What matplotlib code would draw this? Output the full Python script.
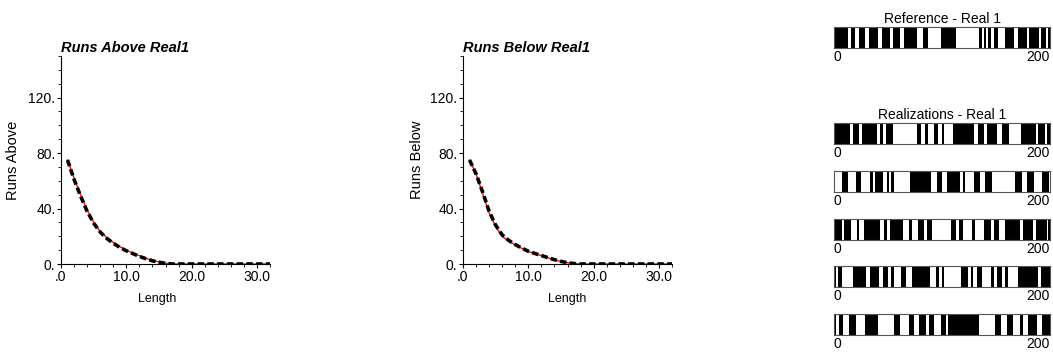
import numpy as np
import matplotlib
matplotlib.use('Agg')
import matplotlib.pyplot as plt
from matplotlib.ticker import MultipleLocator, FuncFormatter

plt.rcParams['font.family'] = ['Liberation Sans', 'DejaVu Sans']

# run-length statistics (number of runs of each length)
lengths = np.arange(1, 33)
above_ref = [75, 62, 50, 39, 30, 23.5, 19, 15.5, 12.5, 10, 7.8, 6, 4, 2.5, 1.5, 0.6] + [0] * 16
above_real = [75, 61, 49, 38, 29.5, 23, 18.5, 15, 12, 9.5, 7.5, 5.5, 3.8, 2.3, 1.3, 0.5] + [0] * 16
below_ref = [75, 65, 51, 37, 27, 20, 16.5, 13.8, 11.3, 9, 7.5, 6, 4.5, 3, 1.8, 0.9, 0.3] + [0] * 15
below_real = [75, 65, 52, 38, 28, 21, 17, 14, 11.5, 9.2, 7.6, 6.1, 4.6, 3.1, 1.9, 0.9, 0.3] + [0] * 15

# indicator strings as run lengths (cells), first run colour given separately
ref_runs = [13, 3, 3, 4, 6, 3, 9, 3, 8, 3, 6, 4, 12, 5, 5, 12, 14, 21, 3, 2, 2, 2, 2, 3, 4, 6,
            9, 3, 9, 2, 9, 2, 4, 2, 2]
ref_first = 1
real_runs = [
    [15, 3, 5, 3, 14, 3, 2, 3, 7, 22, 4, 3, 3, 6, 3, 4, 2, 8, 20, 3, 6, 3, 9, 5, 6, 11, 14, 2, 6, 2, 3],
    [7, 6, 7, 5, 8, 3, 2, 7, 4, 2, 2, 3, 14, 20, 5, 5, 5, 12, 2, 2, 9, 5, 5, 6, 22, 6, 5, 6, 8, 6, 1],
    [7, 2, 7, 5, 2, 5, 15, 3, 3, 3, 12, 5, 3, 6, 5, 3, 5, 17, 5, 3, 3, 9, 3, 8, 6, 3, 5, 5, 14, 3, 9,
     3, 10, 1, 2],
    [2, 2, 3, 11, 12, 3, 9, 3, 5, 3, 3, 6, 5, 5, 17, 5, 3, 3, 2, 16, 6, 3, 2, 3, 5, 8, 3, 3, 5, 2, 3,
     9, 19, 3, 8],
    [2, 3, 3, 6, 6, 9, 12, 15, 5, 8, 5, 5, 6, 3, 5, 6, 5, 2, 28, 15, 6, 5, 6, 6, 3, 5, 8, 5, 7],
]
real_first = [1, 0, 1, 1, 1]
ncell = 200

fig = plt.figure(figsize=(10.53, 3.56), dpi=100)


def runPlot(rect, ref, real, title, ylab, xlab_x, ylab_x):
    ax = fig.add_axes(rect)
    ax.plot(lengths, ref, color='red', lw=1.0, zorder=2)
    ax.plot(lengths, real, color='black', lw=2.6, ls=(0, (1.8, 0.9)), zorder=3)
    ax.set_xlim(0, 32)
    ax.set_ylim(0, 150)
    for s in ['top', 'right']:
        ax.spines[s].set_visible(False)
    for s in ['left', 'bottom']:
        ax.spines[s].set_linewidth(0.8)
    ax.xaxis.set_major_locator(MultipleLocator(10))
    ax.xaxis.set_minor_locator(MultipleLocator(2))
    ax.yaxis.set_major_locator(MultipleLocator(40))
    ax.yaxis.set_minor_locator(MultipleLocator(10))
    ax.xaxis.set_major_formatter(FuncFormatter(lambda v, p: '.0' if v == 0 else '%.1f' % v))
    ax.yaxis.set_major_formatter(FuncFormatter(lambda v, p: '%d.' % v))
    ax.tick_params(which='major', length=3, width=0.8, labelsize=10, pad=1)
    ax.tick_params(which='minor', length=2, width=0.6)
    ax.set_title(title, loc='left', fontsize=10.5, fontweight='bold', fontstyle='italic', pad=3)
    ax.set_xlabel('Length', fontsize=9)
    ax.set_ylabel(ylab, fontsize=10.5)
    ax.xaxis.set_label_coords(xlab_x, -0.14)
    ax.yaxis.set_label_coords(ylab_x, 0.5)
    return ax


runPlot([61 / 1053, 92 / 356, 209 / 1053, 208 / 356], above_ref, above_real,
        'Runs Above Real1', 'Runs Above', 0.46, -0.195)
runPlot([463 / 1053, 92 / 356, 209 / 1053, 208 / 356], below_ref, below_real,
        'Runs Below Real1', 'Runs Below', 0.5, -0.185)


def barcode(top, runs, first):
    ax = fig.add_axes([834 / 1053, 1 - (top + 21) / 356, 216 / 1053, 21 / 356])
    edges = np.concatenate([[0], np.cumsum(runs)])
    segs = [(edges[i], runs[i]) for i in range(len(runs)) if (i % 2 == 0) == bool(first)]
    ax.broken_barh(segs, (0, 1), facecolor='black', edgecolor='none')
    ax.set_xlim(0, ncell)
    ax.set_ylim(0, 1)
    ax.set_xticks([])
    ax.set_yticks([])
    for s in ax.spines.values():
        s.set_linewidth(0.8)
        s.set_color('#555555')
    ax.text(0, -0.08, '0', transform=ax.transAxes, ha='left', va='top', fontsize=10)
    ax.text(1, -0.08, '200', transform=ax.transAxes, ha='right', va='top', fontsize=10)
    return ax


ax = barcode(27, ref_runs, ref_first)
ax.set_title('Reference - Real 1', fontsize=10, pad=3)
tops = [123, 171, 219, 266, 314]
for i in range(len(real_runs)):
    ax = barcode(tops[i], real_runs[i], real_first[i])
    if i == 0:
        ax.set_title('Realizations - Real 1', fontsize=10, pad=3)

fig.savefig('out.png', dpi=100)
